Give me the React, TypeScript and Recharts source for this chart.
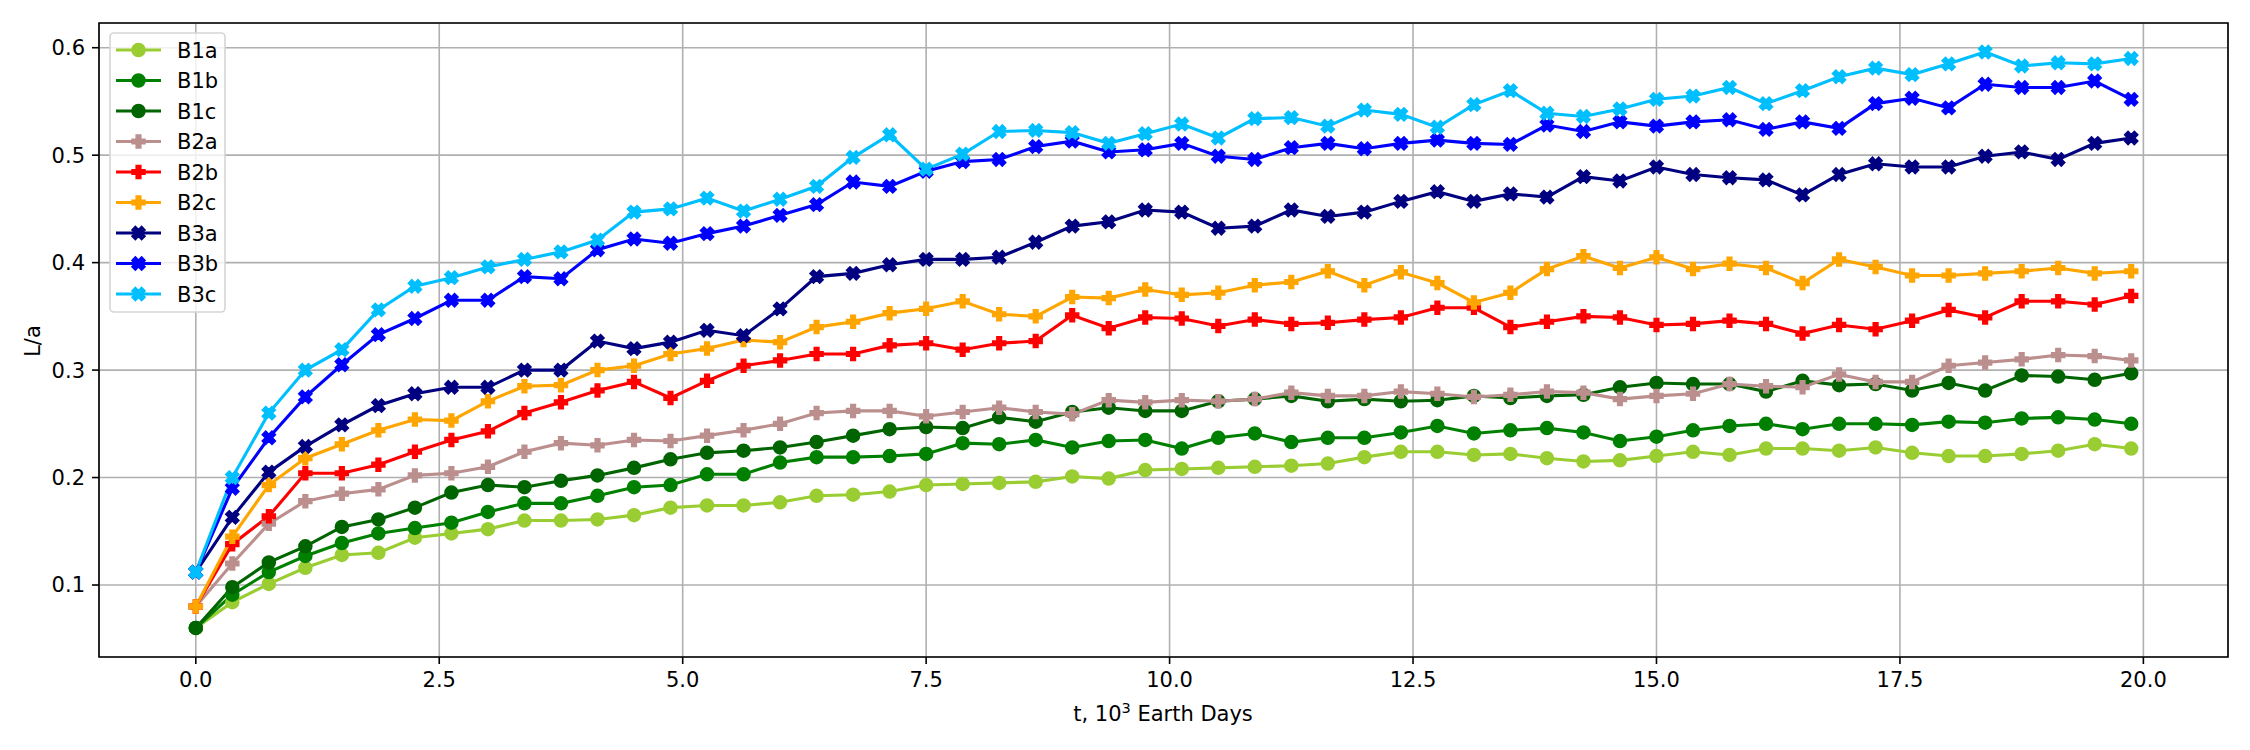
import { LineChart, Line, XAxis, YAxis, CartesianGrid, ReferenceArea } from "recharts";

// time in 10^3 Earth days
const tDays = [
  0, 0.375, 0.75, 1.125, 1.5, 1.875, 2.25, 2.625, 3, 3.375, 3.75, 4.125,
  4.5, 4.875, 5.25, 5.625, 6, 6.375, 6.75, 7.125, 7.5, 7.875,
  8.25, 8.625, 9, 9.375, 9.75, 10.125, 10.5, 10.875, 11.25, 11.625,
  12, 12.375, 12.75, 13.125, 13.5, 13.875, 14.25, 14.625,
  15, 15.375, 15.75, 16.125, 16.5, 16.875, 17.25, 17.625, 18, 18.375, 18.75, 19.125, 19.5, 19.875,
];

const b1a = [
  0.06, 0.084, 0.101, 0.116, 0.128, 0.13, 0.144, 0.148, 0.152, 0.16, 0.16, 0.161,
  0.165, 0.172, 0.174, 0.174, 0.177, 0.183, 0.184, 0.187, 0.193, 0.194,
  0.195, 0.196, 0.201, 0.199, 0.207, 0.208, 0.209, 0.21, 0.211, 0.213,
  0.219, 0.224, 0.224, 0.221, 0.222, 0.218, 0.215, 0.216,
  0.22, 0.224, 0.221, 0.227, 0.227, 0.225, 0.228, 0.223, 0.22, 0.22, 0.222, 0.225, 0.231, 0.227,
];
const b1b = [
  0.06, 0.091, 0.112, 0.127, 0.139, 0.148, 0.153, 0.158, 0.168, 0.176, 0.176, 0.183,
  0.191, 0.193, 0.203, 0.203, 0.214, 0.219, 0.219, 0.22, 0.222, 0.232,
  0.231, 0.235, 0.228, 0.234, 0.235, 0.227, 0.237, 0.241, 0.233, 0.237,
  0.237, 0.242, 0.248, 0.241, 0.244, 0.246, 0.242, 0.234,
  0.238, 0.244, 0.248, 0.25, 0.245, 0.25, 0.25, 0.249, 0.252, 0.251, 0.255, 0.256, 0.254, 0.25,
];
const b1c = [
  0.06, 0.098, 0.121, 0.136, 0.154, 0.161, 0.172, 0.186, 0.193, 0.191, 0.197, 0.202,
  0.209, 0.217, 0.223, 0.225, 0.228, 0.233, 0.239, 0.245, 0.247, 0.246,
  0.256, 0.252, 0.261, 0.265, 0.262, 0.262, 0.271, 0.273, 0.276, 0.271,
  0.273, 0.271, 0.272, 0.276, 0.274, 0.276, 0.277, 0.284,
  0.288, 0.287, 0.287, 0.28, 0.29, 0.286, 0.287, 0.281, 0.288, 0.281, 0.295, 0.294, 0.291, 0.297,
];
const b2a = [
  0.08, 0.12, 0.157, 0.178, 0.185, 0.189, 0.202, 0.204, 0.21, 0.224, 0.232, 0.23,
  0.235, 0.234, 0.239, 0.244, 0.25, 0.26, 0.262, 0.262, 0.257, 0.261,
  0.265, 0.261, 0.259, 0.272, 0.27, 0.272, 0.271, 0.273, 0.279, 0.276,
  0.276, 0.28, 0.278, 0.275, 0.277, 0.28, 0.279, 0.273,
  0.276, 0.278, 0.287, 0.285, 0.284, 0.296, 0.289, 0.289, 0.304, 0.307, 0.31, 0.314, 0.313, 0.309,
];
const b2b = [
  0.08, 0.138, 0.164, 0.204, 0.204, 0.212, 0.224, 0.235, 0.243, 0.26, 0.27, 0.281,
  0.289, 0.274, 0.29, 0.304, 0.309, 0.315, 0.315, 0.323, 0.325, 0.319,
  0.325, 0.327, 0.351, 0.339, 0.349, 0.348, 0.341, 0.347, 0.343, 0.344,
  0.347, 0.349, 0.358, 0.358, 0.34, 0.345, 0.35, 0.349,
  0.342, 0.343, 0.346, 0.343, 0.334, 0.342, 0.338, 0.346, 0.356, 0.349, 0.364, 0.364, 0.361, 0.369,
];
const b2c = [
  0.08, 0.145, 0.193, 0.218, 0.231, 0.244, 0.254, 0.253, 0.271, 0.285, 0.286, 0.3,
  0.304, 0.315, 0.32, 0.328, 0.326, 0.34, 0.345, 0.353, 0.357, 0.364,
  0.352, 0.35, 0.368, 0.367, 0.375, 0.37, 0.372, 0.379, 0.382, 0.392,
  0.379, 0.391, 0.381, 0.363, 0.372, 0.394, 0.406, 0.395,
  0.405, 0.394, 0.399, 0.395, 0.381, 0.403, 0.396, 0.388, 0.388, 0.39, 0.392, 0.395, 0.39, 0.392,
];
const b3a = [
  0.112, 0.163, 0.205, 0.229, 0.249, 0.267, 0.278, 0.284, 0.284, 0.3, 0.3, 0.327,
  0.32, 0.326, 0.337, 0.332, 0.357, 0.387, 0.39, 0.398, 0.403, 0.403,
  0.405, 0.419, 0.434, 0.438, 0.449, 0.447, 0.432, 0.434, 0.449, 0.443,
  0.447, 0.457, 0.466, 0.457, 0.464, 0.461, 0.48, 0.476,
  0.489, 0.482, 0.479, 0.477, 0.463, 0.482, 0.492, 0.489, 0.489, 0.499, 0.503, 0.496, 0.511, 0.516,
];
const b3b = [
  0.112, 0.19, 0.237, 0.275, 0.305, 0.333, 0.348, 0.365, 0.365, 0.387, 0.385, 0.412,
  0.422, 0.418, 0.427, 0.434, 0.444, 0.454, 0.475, 0.471, 0.485, 0.494,
  0.496, 0.508, 0.513, 0.503, 0.505, 0.511, 0.499, 0.496, 0.507, 0.511,
  0.506, 0.511, 0.514, 0.511, 0.51, 0.528, 0.522, 0.531,
  0.527, 0.531, 0.533, 0.524, 0.531, 0.525, 0.548, 0.553, 0.544, 0.566, 0.563, 0.563, 0.569, 0.552,
];
const b3c = [
  0.112, 0.2, 0.26, 0.3, 0.319, 0.356, 0.378, 0.386, 0.396, 0.403, 0.41, 0.421,
  0.447, 0.45, 0.46, 0.448, 0.459, 0.471, 0.498, 0.519, 0.487, 0.501,
  0.522, 0.523, 0.521, 0.511, 0.52, 0.529, 0.516, 0.534, 0.535, 0.527,
  0.542, 0.538, 0.526, 0.547, 0.56, 0.539, 0.536, 0.543,
  0.552, 0.555, 0.563, 0.548, 0.56, 0.573, 0.581, 0.575, 0.585, 0.596, 0.583, 0.586, 0.585, 0.59,
];

const xTicks = [0, 2.5, 5, 7.5, 10, 12.5, 15, 17.5, 20];
const yTicks = [0.1, 0.2, 0.3, 0.4, 0.5, 0.6];

const series = [
  { name: "B1a", values: b1a, color: "#9ACD32", marker: "o" },
  { name: "B1b", values: b1b, color: "#008000", marker: "o" },
  { name: "B1c", values: b1c, color: "#006400", marker: "o" },
  { name: "B2a", values: b2a, color: "#BC8F8F", marker: "P" },
  { name: "B2b", values: b2b, color: "#FF0000", marker: "P" },
  { name: "B2c", values: b2c, color: "#FFA500", marker: "P" },
  { name: "B3a", values: b3a, color: "#000080", marker: "X" },
  { name: "B3b", values: b3b, color: "#0000FF", marker: "X" },
  { name: "B3c", values: b3c, color: "#00BFFF", marker: "X" },
];

const data = tDays.map((t, i) => {
  const row: Record<string, number> = { t };
  series.forEach((s) => (row[s.name] = s.values[i]));
  return row;
});

const FONT = "DejaVu Sans";
const FS = 21;
const MS = 12.5; // marker size in px (6pt @150dpi)

// matplotlib-like filled marker outlines, unit coords
const plusPts = [[-1,-3],[1,-3],[1,-1],[3,-1],[3,1],[1,1],[1,3],[-1,3],[-1,1],[-3,1],[-3,-1],[-1,-1]].map(([x, y]) => [x / 6, y / 6]);
const xPts = [[-1,-2],[0,-1],[1,-2],[2,-1],[1,0],[2,1],[1,2],[0,1],[-1,2],[-2,1],[-1,0],[-2,-1]].map(([x, y]) => [x / 4, y / 4]);

function Marker({ cx, cy, shape, color }: { cx: number; cy: number; shape: string; color: string }) {
  if (cx == null || cy == null) return null;
  if (shape === "o") {
    return <circle cx={cx} cy={cy} r={MS / 2} fill={color} stroke={color} strokeWidth={2} />;
  }
  const pts = (shape === "P" ? plusPts : xPts).map(([x, y]) => `${cx + x * MS},${cy + y * MS}`).join(" ");
  return <polygon points={pts} fill={color} stroke={color} strokeWidth={2} strokeLinejoin="miter" />;
}

function Legend() {
  const left = 110, top = 33, rowH = 30.5;
  return (
    <g>
      <rect x={left} y={top} width={115} height={279} rx={4} fill="rgba(255,255,255,0.8)" stroke="#d5d5d5" strokeWidth={1.6} />
      {series.map((s, i) => {
        const y = top + 17 + i * rowH;
        return (
          <g key={s.name}>
            <line x1={116} x2={161} y1={y} y2={y} stroke={s.color} strokeWidth={3.1} />
            <Marker cx={138.5} cy={y} shape={s.marker} color={s.color} />
            <text x={177} y={y + 7.5} fontSize={FS} fontFamily={FONT} fill="#000">{s.name}</text>
          </g>
        );
      })}
    </g>
  );
}

export default function App() {
  const tickStyle = { fill: "#000", fontSize: FS, fontFamily: FONT };
  return (
    <div style={{ position: "absolute", left: 0, top: 0, width: 2250, height: 750, background: "#fff" }}>
      <LineChart width={2250} height={750} data={data} margin={{ top: 23, right: 22, bottom: 0, left: 0 }}>
        <CartesianGrid stroke="#b0b0b0" strokeWidth={1.6} />
        <XAxis
          dataKey="t"
          type="number"
          domain={[-0.994, 20.869]}
          allowDataOverflow
          ticks={xTicks}
          tickFormatter={(v: number) => v.toFixed(1)}
          height={93}
          axisLine={false}
          tickSize={7}
          tickMargin={8}
          tickLine={{ stroke: "#000", strokeWidth: 1.6 }}
          tick={tickStyle}
        />
        <YAxis
          type="number"
          domain={[0.033, 0.623]}
          allowDataOverflow
          ticks={yTicks}
          tickFormatter={(v: number) => v.toFixed(1)}
          width={99}
          axisLine={false}
          tickSize={7}
          tickMargin={7}
          tickLine={{ stroke: "#000", strokeWidth: 1.6 }}
          tick={tickStyle}
        />
        {series.map((s) => (
          <Line
            key={s.name}
            dataKey={s.name}
            type="linear"
            stroke={s.color}
            strokeWidth={3.1}
            isAnimationActive={false}
            activeDot={false}
            dot={(p: any) => <Marker key={`${s.name}-${p.index}`} cx={p.cx} cy={p.cy} shape={s.marker} color={s.color} />}
          />
        ))}
        <ReferenceArea x1={-0.994} x2={20.869} y1={0.033} y2={0.623} fill="none" stroke="#000" strokeWidth={1.6} ifOverflow="visible" />
      </LineChart>
      <svg width={2250} height={750} style={{ position: "absolute", left: 0, top: 0, pointerEvents: "none" }}>
        <Legend />
        <text x={33} y={341} transform="rotate(-90 33 341)" textAnchor="middle" dominantBaseline="central" fontSize={FS} fontFamily={FONT}>L/a</text>
        <text x={1163} y={721} textAnchor="middle" fontSize={FS} fontFamily={FONT}>
          t, 10<tspan fontSize={14.5} dy={-8}>3</tspan><tspan dy={8}> Earth Days</tspan>
        </text>
      </svg>
    </div>
  );
}
